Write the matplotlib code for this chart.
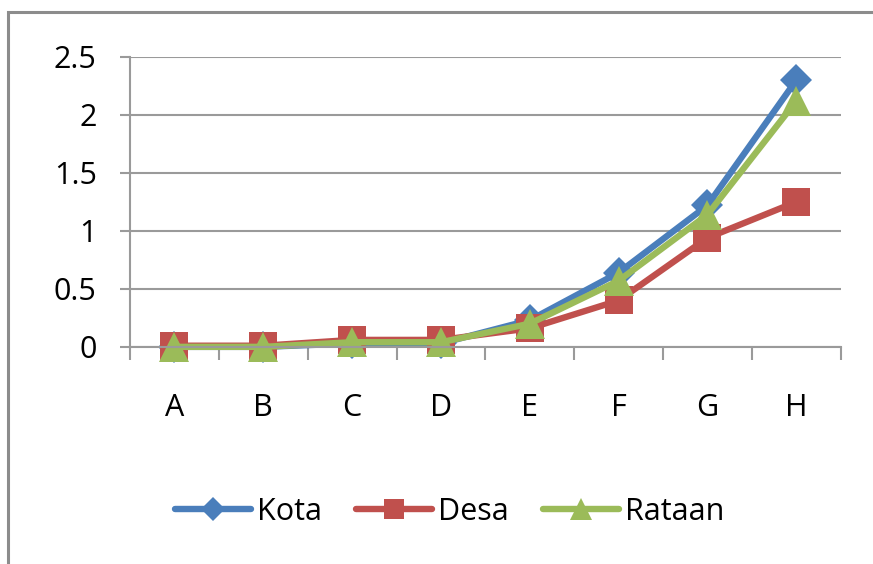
"""Line chart: Kota / Desa / Rataan across categories A-H (Excel style)."""
import matplotlib
matplotlib.use("Agg")
import matplotlib.pyplot as plt
import numpy as np
from matplotlib.patches import Rectangle

categories = ["A", "B", "C", "D", "E", "F", "G", "H"]
kota = [0.0, 0.0, 0.03, 0.03, 0.23, 0.64, 1.22, 2.30]
desa = [0.01, 0.01, 0.06, 0.06, 0.16, 0.40, 0.94, 1.25]
rataan = [0.0, 0.0, 0.04, 0.04, 0.20, 0.57, 1.14, 2.12]
yticks = [0, 0.5, 1, 1.5, 2, 2.5]
ytick_labels = ["0", "0.5", "1", "1.5", "2", "2.5"]

plt.rcParams["font.family"] = ["Open Sans", "DejaVu Sans"]
GRID = "#9a9a9a"

fig = plt.figure(figsize=(8.73, 5.64), dpi=100)
ax = fig.add_axes([0.149, 0.385, 0.814, 0.514])

# outer chart border (only left and top visible in the reference crop)
fig.patches.append(Rectangle((0.009, -0.05), 1.2, 1.028, transform=fig.transFigure,
                             fill=False, edgecolor="#8c8c8c", linewidth=2.2))

x = np.arange(len(categories))
series = [
    ("Kota", kota, "#4A7EBB", "D", 16),
    ("Desa", desa, "#C0504D", "s", 20),
    ("Rataan", rataan, "#9BBB59", "^", 21),
]
for name, vals, color, marker, ms in series:
    ax.plot(x, vals, color=color, lw=4.6, marker=marker, markersize=ms,
            markeredgewidth=0, label=name, solid_capstyle="round", clip_on=False)

ax.set_xlim(-0.5, len(categories) - 0.5)
ax.set_ylim(0, 2.5)
ax.set_yticks(yticks)
ax.set_yticklabels(ytick_labels)
ax.yaxis.grid(True, color=GRID, lw=1.5)
ax.set_axisbelow(True)

ax.set_xticks(x)
ax.set_xticklabels(categories)
ax.set_xticks(np.arange(-0.5, len(categories)), minor=True)
ax.tick_params(axis="x", which="major", length=0, pad=33, labelsize=22)
ax.tick_params(axis="x", which="minor", length=9, width=1.5, color=GRID, direction="out")
ax.tick_params(axis="y", length=7, width=1.5, color=GRID, pad=17, labelsize=22)

for side in ["top", "right"]:
    ax.spines[side].set_visible(False)
for side in ["left", "bottom"]:
    ax.spines[side].set_color(GRID)
    ax.spines[side].set_linewidth(1.5)

fig.legend(loc="center", bbox_to_anchor=(0.515, 0.092), ncol=3, frameon=False,
           fontsize=22, handlelength=2.5, handletextpad=0.2, columnspacing=1.1,
           markerscale=0.75)

fig.savefig("out.png", dpi=100)
